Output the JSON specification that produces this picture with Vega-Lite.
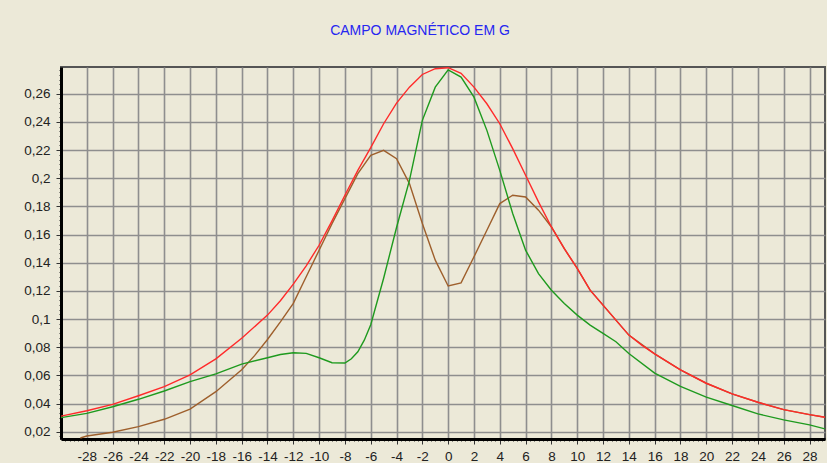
{
  "$schema": "https://vega.github.io/schema/vega-lite/v6.json",
  "width": 764,
  "height": 372,
  "autosize": {"type": "none"},
  "padding": {"left": 61, "top": 67, "right": 2, "bottom": 24},
  "background": "#ECE9D8",
  "title": {"text": "CAMPO MAGNÉTICO EM G", "color": "#2626F0", "font": "Liberation Sans", "fontSize": 14, "fontWeight": "normal", "anchor": "middle", "offset": 25, "dx": -23},
  "config": {
    "view": {"stroke": "#555555", "strokeWidth": 2},
    "axis": {"labelFont": "Liberation Sans", "labelFontSize": 13.5, "labelColor": "#222222", "gridColor": "#8E8E8E", "gridWidth": 1.6, "domainColor": "#000000", "domainWidth": 3, "tickColor": "#333333", "tickWidth": 1, "labelOverlap": false, "labelFlush": false, "title": null}
  },
  "data": {"values": [
    {"x": -28.5, "v": 0.0155, "s": "B"}, {"x": -28, "v": 0.0169, "s": "B"}, {"x": -26, "v": 0.0196, "s": "B"}, {"x": -24, "v": 0.0236, "s": "B"}, {"x": -22, "v": 0.0288, "s": "B"}, {"x": -20, "v": 0.036, "s": "B"}, {"x": -18, "v": 0.0484, "s": "B"}, {"x": -16, "v": 0.064, "s": "B"}, {"x": -15, "v": 0.074, "s": "B"}, {"x": -14, "v": 0.0855, "s": "B"}, {"x": -13, "v": 0.098, "s": "B"}, {"x": -12, "v": 0.1111, "s": "B"}, {"x": -11, "v": 0.13, "s": "B"}, {"x": -10, "v": 0.1489, "s": "B"}, {"x": -9, "v": 0.1678, "s": "B"}, {"x": -8, "v": 0.1855, "s": "B"}, {"x": -7, "v": 0.2033, "s": "B"}, {"x": -6, "v": 0.2163, "s": "B"}, {"x": -5, "v": 0.2198, "s": "B"}, {"x": -4, "v": 0.2139, "s": "B"}, {"x": -3, "v": 0.1962, "s": "B"}, {"x": -2, "v": 0.1678, "s": "B"}, {"x": -1, "v": 0.1418, "s": "B"}, {"x": 0, "v": 0.1235, "s": "B"}, {"x": 1, "v": 0.1257, "s": "B"}, {"x": 2, "v": 0.1442, "s": "B"}, {"x": 3, "v": 0.1631, "s": "B"}, {"x": 4, "v": 0.182, "s": "B"}, {"x": 5, "v": 0.1879, "s": "B"}, {"x": 6, "v": 0.1867, "s": "B"}, {"x": 7, "v": 0.1773, "s": "B"}, {"x": 8, "v": 0.1654, "s": "B"}, {"x": 9, "v": 0.15, "s": "B"}, {"x": 10, "v": 0.1359, "s": "B"}, {"x": 11, "v": 0.1205, "s": "B"}, {"x": 12, "v": 0.1099, "s": "B"}, {"x": 13, "v": 0.0992, "s": "B"}, {"x": 14, "v": 0.0886, "s": "B"}, {"x": 16, "v": 0.0753, "s": "B"}, {"x": 18, "v": 0.0639, "s": "B"}, {"x": 20, "v": 0.0544, "s": "B"}, {"x": 22, "v": 0.0468, "s": "B"}, {"x": 24, "v": 0.0409, "s": "B"}, {"x": 26, "v": 0.0357, "s": "B"}, {"x": 28, "v": 0.0321, "s": "B"}, {"x": 29.2, "v": 0.0302, "s": "B"},
    {"x": -30, "v": 0.030, "s": "G"}, {"x": -28, "v": 0.033, "s": "G"}, {"x": -26, "v": 0.0377, "s": "G"}, {"x": -24, "v": 0.043, "s": "G"}, {"x": -22, "v": 0.0489, "s": "G"}, {"x": -20, "v": 0.0555, "s": "G"}, {"x": -18, "v": 0.061, "s": "G"}, {"x": -16, "v": 0.068, "s": "G"}, {"x": -14, "v": 0.0725, "s": "G"}, {"x": -13, "v": 0.0748, "s": "G"}, {"x": -12, "v": 0.0761, "s": "G"}, {"x": -11, "v": 0.0756, "s": "G"}, {"x": -10, "v": 0.0725, "s": "G"}, {"x": -9, "v": 0.069, "s": "G"}, {"x": -8, "v": 0.0688, "s": "G"}, {"x": -7.5, "v": 0.0718, "s": "G"}, {"x": -7, "v": 0.0767, "s": "G"}, {"x": -6.5, "v": 0.085, "s": "G"}, {"x": -6, "v": 0.096, "s": "G"}, {"x": -5, "v": 0.129, "s": "G"}, {"x": -4, "v": 0.165, "s": "G"}, {"x": -3, "v": 0.1985, "s": "G"}, {"x": -2, "v": 0.2411, "s": "G"}, {"x": -1, "v": 0.2647, "s": "G"}, {"x": 0, "v": 0.277, "s": "G"}, {"x": 1, "v": 0.2718, "s": "G"}, {"x": 2, "v": 0.2576, "s": "G"}, {"x": 3, "v": 0.234, "s": "G"}, {"x": 4, "v": 0.2056, "s": "G"}, {"x": 5, "v": 0.1749, "s": "G"}, {"x": 6, "v": 0.1489, "s": "G"}, {"x": 7, "v": 0.1323, "s": "G"}, {"x": 8, "v": 0.1205, "s": "G"}, {"x": 9, "v": 0.1111, "s": "G"}, {"x": 10, "v": 0.1028, "s": "G"}, {"x": 11, "v": 0.0957, "s": "G"}, {"x": 12, "v": 0.0898, "s": "G"}, {"x": 13, "v": 0.0839, "s": "G"}, {"x": 14, "v": 0.0755, "s": "G"}, {"x": 16, "v": 0.0616, "s": "G"}, {"x": 18, "v": 0.0521, "s": "G"}, {"x": 20, "v": 0.0445, "s": "G"}, {"x": 22, "v": 0.0386, "s": "G"}, {"x": 24, "v": 0.0326, "s": "G"}, {"x": 26, "v": 0.0284, "s": "G"}, {"x": 28, "v": 0.0248, "s": "G"}, {"x": 29.2, "v": 0.022, "s": "G"},
    {"x": -30, "v": 0.031, "s": "R"}, {"x": -28, "v": 0.0349, "s": "R"}, {"x": -26, "v": 0.0394, "s": "R"}, {"x": -24, "v": 0.0455, "s": "R"}, {"x": -22, "v": 0.052, "s": "R"}, {"x": -20, "v": 0.0603, "s": "R"}, {"x": -18, "v": 0.0717, "s": "R"}, {"x": -16, "v": 0.0863, "s": "R"}, {"x": -14, "v": 0.1028, "s": "R"}, {"x": -13, "v": 0.113, "s": "R"}, {"x": -12, "v": 0.1248, "s": "R"}, {"x": -11, "v": 0.1378, "s": "R"}, {"x": -10, "v": 0.1524, "s": "R"}, {"x": -9, "v": 0.1697, "s": "R"}, {"x": -8, "v": 0.1879, "s": "R"}, {"x": -7, "v": 0.2056, "s": "R"}, {"x": -6, "v": 0.2217, "s": "R"}, {"x": -5, "v": 0.2387, "s": "R"}, {"x": -4, "v": 0.2534, "s": "R"}, {"x": -3, "v": 0.2647, "s": "R"}, {"x": -2, "v": 0.2737, "s": "R"}, {"x": -1, "v": 0.2778, "s": "R"}, {"x": 0, "v": 0.2785, "s": "R"}, {"x": 1, "v": 0.2745, "s": "R"}, {"x": 2, "v": 0.2647, "s": "R"}, {"x": 3, "v": 0.2529, "s": "R"}, {"x": 4, "v": 0.2387, "s": "R"}, {"x": 5, "v": 0.221, "s": "R"}, {"x": 6, "v": 0.2021, "s": "R"}, {"x": 7, "v": 0.1832, "s": "R"}, {"x": 8, "v": 0.1654, "s": "R"}, {"x": 9, "v": 0.15, "s": "R"}, {"x": 10, "v": 0.1359, "s": "R"}, {"x": 11, "v": 0.1205, "s": "R"}, {"x": 12, "v": 0.1099, "s": "R"}, {"x": 13, "v": 0.0992, "s": "R"}, {"x": 14, "v": 0.0886, "s": "R"}, {"x": 15, "v": 0.0815, "s": "R"}, {"x": 16, "v": 0.0753, "s": "R"}, {"x": 18, "v": 0.0639, "s": "R"}, {"x": 20, "v": 0.0544, "s": "R"}, {"x": 22, "v": 0.0468, "s": "R"}, {"x": 24, "v": 0.0409, "s": "R"}, {"x": 26, "v": 0.0357, "s": "R"}, {"x": 28, "v": 0.0321, "s": "R"}, {"x": 29.2, "v": 0.0302, "s": "R"}
  ]},
  "mark": {"type": "line", "strokeWidth": 1.4, "clip": true},
  "encoding": {
    "x": {"field": "x", "type": "quantitative",
      "scale": {"domain": [-30, 29.2], "nice": false, "zero": false},
      "axis": {
        "values": [-29.667,-29.333,-29,-28.667,-28.333,-28,-27.667,-27.333,-27,-26.667,-26.333,-26,-25.667,-25.333,-25,-24.667,-24.333,-24,-23.667,-23.333,-23,-22.667,-22.333,-22,-21.667,-21.333,-21,-20.667,-20.333,-20,-19.667,-19.333,-19,-18.667,-18.333,-18,-17.667,-17.333,-17,-16.667,-16.333,-16,-15.667,-15.333,-15,-14.667,-14.333,-14,-13.667,-13.333,-13,-12.667,-12.333,-12,-11.667,-11.333,-11,-10.667,-10.333,-10,-9.667,-9.333,-9,-8.667,-8.333,-8,-7.667,-7.333,-7,-6.667,-6.333,-6,-5.667,-5.333,-5,-4.667,-4.333,-4,-3.667,-3.333,-3,-2.667,-2.333,-2,-1.667,-1.333,-1,-0.667,-0.333,0,0.333,0.667,1,1.333,1.667,2,2.333,2.667,3,3.333,3.667,4,4.333,4.667,5,5.333,5.667,6,6.333,6.667,7,7.333,7.667,8,8.333,8.667,9,9.333,9.667,10,10.333,10.667,11,11.333,11.667,12,12.333,12.667,13,13.333,13.667,14,14.333,14.667,15,15.333,15.667,16,16.333,16.667,17,17.333,17.667,18,18.333,18.667,19,19.333,19.667,20,20.333,20.667,21,21.333,21.667,22,22.333,22.667,23,23.333,23.667,24,24.333,24.667,25,25.333,25.667,26,26.333,26.667,27,27.333,27.667,28,28.333,28.667,29],
        "labelExpr": "datum.value % 2 === 0 ? '' + datum.value : ''",
        "tickSize": {"condition": {"test": "datum.value % 2 === 0", "value": 5}, "value": 2},
        "gridOpacity": {"condition": {"test": "datum.value % 2 === 0", "value": 1}, "value": 0},
        "labelPadding": 5
      }
    },
    "y": {"field": "v", "type": "quantitative",
      "scale": {"domain": [0.0148, 0.279], "nice": false, "zero": false},
      "axis": {
        "values": [0.0167,0.02,0.0233,0.0267,0.03,0.0333,0.0367,0.04,0.0433,0.0467,0.05,0.0533,0.0567,0.06,0.0633,0.0667,0.07,0.0733,0.0767,0.08,0.0833,0.0867,0.09,0.0933,0.0967,0.1,0.1033,0.1067,0.11,0.1133,0.1167,0.12,0.1233,0.1267,0.13,0.1333,0.1367,0.14,0.1433,0.1467,0.15,0.1533,0.1567,0.16,0.1633,0.1667,0.17,0.1733,0.1767,0.18,0.1833,0.1867,0.19,0.1933,0.1967,0.2,0.2033,0.2067,0.21,0.2133,0.2167,0.22,0.2233,0.2267,0.23,0.2333,0.2367,0.24,0.2433,0.2467,0.25,0.2533,0.2567,0.26,0.2633,0.2667,0.27,0.2733,0.2767],
        "labelExpr": "abs(datum.value * 50 - round(datum.value * 50)) < 0.001 ? replace(format(datum.value, '.2~f'), '.', ',') : ''",
        "tickSize": {"condition": {"test": "abs(datum.value * 50 - round(datum.value * 50)) < 0.001", "value": 5}, "value": 2},
        "gridOpacity": {"condition": {"test": "abs(datum.value * 50 - round(datum.value * 50)) < 0.001", "value": 1}, "value": 0},
        "labelPadding": 6
      }
    },
    "color": {"field": "s", "type": "nominal", "legend": null,
      "scale": {"domain": ["B", "G", "R"], "range": ["#9E5F2C", "#1E9A1E", "#FF2A2A"]}},
    "order": {"field": "x", "type": "quantitative"}
  }
}
